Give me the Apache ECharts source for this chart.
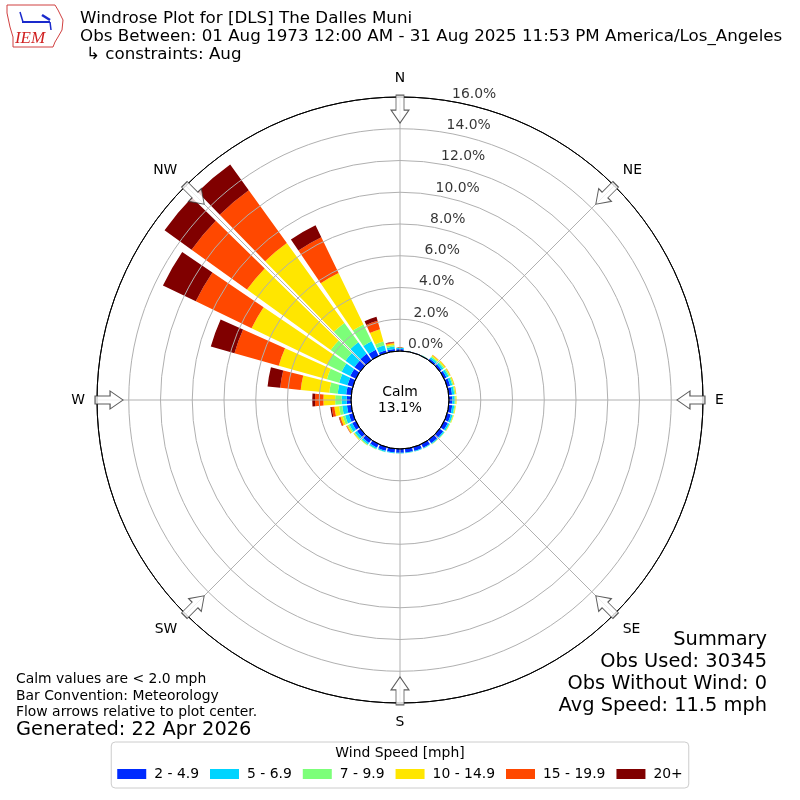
<!DOCTYPE html>
<html><head><meta charset="utf-8">
<script src="https://cdn.jsdelivr.net/npm/echarts@6/dist/echarts.min.js"></script>
<style>html,body{margin:0;padding:0;background:#fff}#c{width:800px;height:800px}</style>
</head><body><div id="c"></div>
<script>
// ---- data ----
const directions = [0,10,20,30,40,50,60,70,80,90,100,110,120,130,140,150,160,170,180,190,200,210,220,230,240,250,260,270,280,290,300,310,320,330,340,350];
const speedBins = ['2 - 4.9','5 - 6.9','7 - 9.9','10 - 14.9','15 - 19.9','20+'];
const binColors = ['#002bff','#00d4ff','#7cff79','#ffe600','#ff4800','#800000'];
// percent of observations per direction (meteorological, from N clockwise)
const pct2to4  = [0.12,0.02,0.02,0.03,0.12,0.15,0.17,0.20,0.21,0.21,0.22,0.24,0.26,0.27,0.27,0.26,0.25,0.24,0.24,0.24,0.24,0.25,0.25,0.26,0.26,0.26,0.27,0.27,0.32,0.35,0.40,0.45,0.50,0.43,0.17,0.15];
const pct5to6  = [0.07,0.01,0.01,0.02,0.12,0.14,0.14,0.14,0.14,0.15,0.13,0.12,0.10,0.08,0.06,0.05,0.04,0.04,0.04,0.05,0.07,0.09,0.12,0.15,0.20,0.25,0.30,0.32,0.54,0.55,0.60,0.70,0.90,0.60,0.33,0.15];
const pct7to9  = [0.02,0,0,0.01,0.08,0.08,0.08,0.07,0.07,0.06,0.06,0.05,0.04,0.03,0.02,0.01,0.01,0.01,0.01,0.01,0.02,0.03,0.05,0.07,0.10,0.15,0.20,0.41,0.53,0.80,1.00,1.15,1.50,1.17,0.24,0.10];
const pct10to14= [0.01,0,0,0,0.08,0.08,0.06,0.06,0.05,0.06,0.04,0.03,0.02,0.01,0.01,0,0,0,0,0,0.01,0.01,0.02,0.04,0.08,0.15,0.30,0.74,1.81,3.15,5.30,6.50,6.20,3.60,0.80,0.10];
const pct15to19= [0,0,0,0,0.02,0.02,0.01,0.01,0.01,0,0,0,0,0,0,0,0,0,0,0,0,0,0,0.01,0.03,0.08,0.17,0.53,1.30,2.90,3.90,4.30,4.10,2.50,0.56,0.07];
const pct20up  = [0,0,0,0,0,0,0,0,0,0,0,0,0,0,0,0,0,0,0,0,0,0,0,0,0.01,0.03,0.08,0.17,0.80,1.55,2.30,2.10,2.00,0.84,0.26,0.03];
const radiusTicks = [0,2,4,6,8,10,12,14,16];
const compassDirs = [0,45,90,135,180,225,270,315];
const compassNames = ['N','NE','E','SE','S','SW','W','NW'];
const calmPct = 13.1;
const titleLines = ['Windrose Plot for [DLS] The Dalles Muni',
  'Obs Between: 01 Aug 1973 12:00 AM - 31 Aug 2025 11:53 PM America/Los_Angeles',
  '\u21b3 constraints: Aug'];
const noteLines = ['Calm values are < 2.0 mph','Bar Convention: Meteorology','Flow arrows relative to plot center.'];
const generated = 'Generated: 22 Apr 2026';
const summaryLines = ['Summary','Obs Used: 30345','Obs Without Wind: 0','Avg Speed: 11.5 mph'];

// ---- chart ----
const FF = '"DejaVu Sans", sans-serif';
const binData = [pct2to4,pct5to6,pct7to9,pct10to14,pct15to19,pct20up];
const chart = echarts.init(document.getElementById('c'), null, {renderer:'canvas'});

const barSeries = speedBins.map((name,i)=>({
  name, type:'bar', coordinateSystem:'polar', stack:'wind',
  barWidth: 8.4, z:2,
  encode:{radius:0, angle:1},
  itemStyle:{color:binColors[i]},
  data: directions.map((d,j)=>[binData[i][j], d])
}));

const arrowPath = 'path://M5,0 L13,0 L13,15 L18,15 L9,28 L0,15 L5,15 Z';
const arrowR = 15.24;
const labelAngle = 10;

const gridColors = radiusTicks.map((v,i)=> (i===0||i===radiusTicks.length-1) ? '#000000' : '#b0b0b0');

function txt(t, x, y, size, align, extra){
  return {type:'text', x, y, z:100,
    style:{text:t, font:(extra||'')+size+'px '+FF, fill:'#000', textAlign:align, align:align, textVerticalAlign:'middle', verticalAlign:'middle'}};
}
const texts = [];
titleLines.forEach((t,i)=>{ texts.push(txt(t, i===2 ? 86 : 80, [19,37,55][i], 16.7, 'left')); });
noteLines.forEach((t,i)=>{ texts.push(txt(t, 16, [679,696,712][i], 13.9, 'left')); });
texts.push(txt(generated, 16, 730, 19.4, 'left'));
summaryLines.forEach((t,i)=>{ texts.push(txt(t, 767, 640+i*22, 19.4, 'right')); });
texts.push(txt('Calm', 400, 392, 13.9, 'center'));
texts.push(txt(calmPct.toFixed(1)+'%', 400, 408, 13.9, 'center'));
texts.push(txt('Wind Speed [mph]', 400, 753, 13.9, 'center'));
// IEM logo (approximate)
texts.push({type:'polygon', z:100, shape:{points:[[7,5],[55,5],[58,10],[63,20],[62,30],[58,37],[55,42],[53,47],[13,47],[13,37],[10,27],[7,13]]},
  style:{fill:'none', stroke:'#d04040', lineWidth:1}});
texts.push({type:'line', z:100, shape:{x1:22,y1:22,x2:50,y2:22}, style:{stroke:'#1a2acc', lineWidth:2}});
texts.push({type:'line', z:100, shape:{x1:20,y1:12,x2:23,y2:22}, style:{stroke:'#1a2acc', lineWidth:1.5}});
texts.push({type:'line', z:100, shape:{x1:42,y1:15,x2:50,y2:20}, style:{stroke:'#1a2acc', lineWidth:2.5}});
texts.push({type:'line', z:100, shape:{x1:50,y1:22,x2:51,y2:30}, style:{stroke:'#1a2acc', lineWidth:1.5}});
texts.push({type:'text', x:30, y:39, z:100,
  style:{text:'IEM', font:'italic 17px "Liberation Serif", serif', fill:'#d02020', textAlign:'center', align:'center', textVerticalAlign:'middle', verticalAlign:'middle'}});

const option = {
  backgroundColor:'#ffffff',
  animation:false,
  polar:{center:['50%','50%'], radius:[49,303]},
  angleAxis:{
    type:'value', min:0, max:360, interval:45, startAngle:90, clockwise:true, z:10,
    axisLine:{show:true, lineStyle:{color:'#000000', width:1}},
    axisTick:{show:false},
    splitLine:{show:true, lineStyle:{color:'#b0b0b0', width:1}},
    axisLabel:{show:true, margin:12, fontSize:13.9, fontFamily:FF, color:'#000',
      formatter:(v)=>{const k=compassDirs.indexOf(v); return k>=0?compassNames[k]:'';}}
  },
  radiusAxis:{
    type:'value', min:radiusTicks[0], max:radiusTicks[radiusTicks.length-1], interval:2, z:10,
    axisLine:{show:false}, axisTick:{show:false}, axisLabel:{show:false},
    splitLine:{show:true, lineStyle:{color:gridColors, width:1}}
  },
  legend:{
    data:speedBins, left:'center', top:742, orient:'horizontal',
    icon:'rect', itemWidth:29, itemHeight:10, itemGap:11,
    padding:[25,6,7,6], borderColor:'#cccccc', borderWidth:1, borderRadius:4,
    backgroundColor:'#ffffff', selectedMode:false,
    textStyle:{fontSize:13.9, fontFamily:FF, color:'#000', padding:[0,0,0,3]}
  },
  series: barSeries.concat([
    {type:'scatter', coordinateSystem:'polar', z:20, clip:false, silent:true,
      encode:{radius:0, angle:1},
      symbol:arrowPath, symbolSize:[18,28], symbolKeepAspect:false,
      symbolRotate:(val)=>-val[1],
      itemStyle:{color:'#ffffff', borderColor:'#333333', borderWidth:1},
      data: compassDirs.map(a=>[arrowR, a])},
    {type:'scatter', coordinateSystem:'polar', z:20, clip:false, silent:true,
      encode:{radius:0, angle:1},
      symbolSize:1, itemStyle:{color:'rgba(0,0,0,0)'},
      label:{show:true, position:[0,0], align:'left', verticalAlign:'bottom',
        fontSize:13.9, fontFamily:FF, color:'#000',
        formatter:(p)=>p.value[0].toFixed(1)+'%'},
      data: radiusTicks.map(v=>[v, labelAngle])}
  ]),
  graphic: texts
};
chart.setOption(option);
</script></body></html>
